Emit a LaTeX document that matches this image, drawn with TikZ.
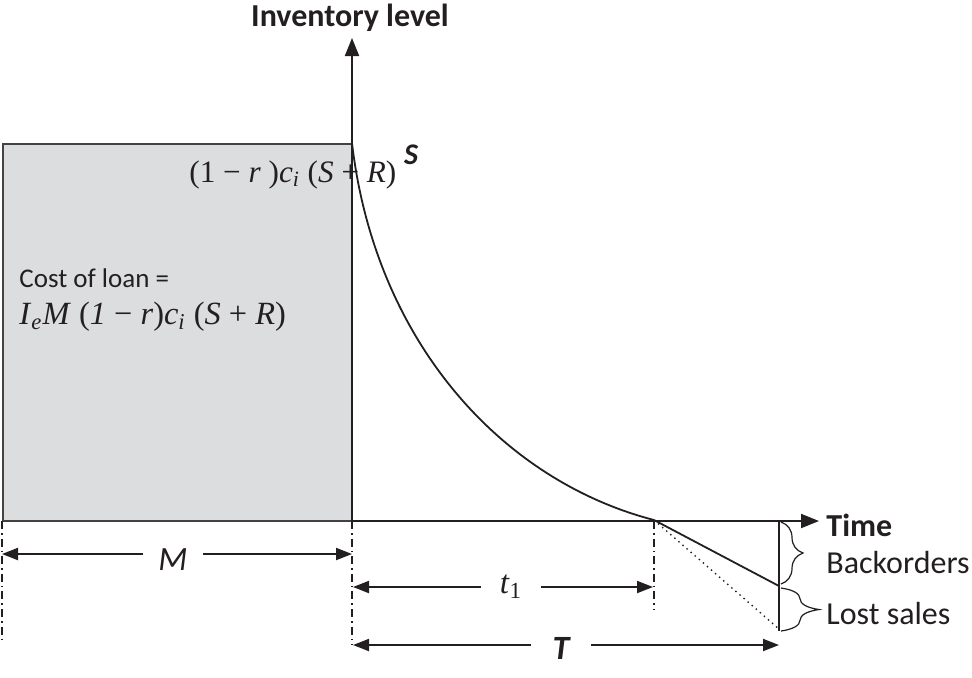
\documentclass[tikz,border=0pt]{standalone}
\usepackage{fontspec}
\setmainfont{Carlito}
\newfontfamily\tms{Liberation Serif}
\usetikzlibrary{arrows.meta,decorations.pathreplacing}
\definecolor{boxfill}{HTML}{DCDDDF}
\definecolor{ink}{HTML}{231F20}
\begin{document}
\begin{tikzpicture}[x=0.5pt,y=-0.5pt,
  axis/.style={draw=ink,line width=1pt,-{Triangle[length=9pt,width=7pt]}},
  dimarrow/.style={draw=ink,line width=1pt,-{Triangle[length=8pt,width=6pt]}},
  dashdot/.style={draw=ink,line width=0.8pt,dash pattern=on 4pt off 2pt on 0.8pt off 2pt},
  lbl/.style={font=\fontsize{16}{19}\selectfont,text=ink,inner sep=0pt},
  mth/.style={text=ink,inner sep=0pt},
  dimlbl/.style={minimum width=30pt,inner sep=0pt,text=ink},
  bracestyle/.style={draw=ink,line width=0.6pt,decorate}]
\useasboundingbox (0,0) rectangle (972,677);
% loan box
\node[draw=ink!85,line width=1pt,fill=boxfill,inner sep=0pt,anchor=north west,
  minimum width=174.5pt,minimum height=188.5pt] (box) at (2,143) {};
% coordinates
\coordinate (O) at (352,521);
\coordinate (Ytop) at (352,38);
\coordinate (Xend) at (819,521);
\coordinate (Stop) at (352,143);
\coordinate (Z) at (654,520);
\coordinate (B) at (779,586);
\coordinate (L) at (779,629);
\coordinate (Vbot) at (779,631);
\coordinate (Xv) at (779,521);
% texts
\node[lbl,font=\bfseries\fontsize{16}{19}\selectfont,anchor=base] (ylab) at (350,26) {Inventory level};
\node[lbl,font=\bfseries\fontsize{16}{19}\selectfont,anchor=base west] (xlab) at (826,536) {Time};
\node[lbl,anchor=base west] (back) at (826,573) {Backorders};
\node[lbl,anchor=base west] (lost) at (826,624) {Lost sales};
\node[lbl,font=\fontsize{13.5}{16}\selectfont,anchor=base west] (cost) at (19,287) {Cost of loan =};
\node[mth,font=\tms\fontsize{16.2}{19}\selectfont,anchor=base west] (f2) at (19,324) {\textit{I}\textsubscript{\textit{e}}\textit{M} (\textit{1} − \textit{r})\textit{c}\textsubscript{\textit{i}} (\textit{S} + \textit{R})};
\node[mth,font=\tms\fontsize{15.6}{19}\selectfont,anchor=base west] (f1) at (189,182) {(1 − \textit{r} )\textit{c}\textsubscript{\textit{i}} (\textit{S} + \textit{R})};
\node[lbl,font=\bfseries\itshape\fontsize{15}{18}\selectfont,anchor=center] (slab) at (411,155) {S};
% axes
\draw[draw=ink,line width=1pt] (box.south east) -- (O);
\draw[axis] (O) -- (Ytop);
\draw[axis] (O) -- (Xend);
% curve
\draw[draw=ink,line width=0.9pt] (Stop) .. controls (375,340) and (500,480) .. (Z);
\draw[draw=ink,line width=0.9pt] (Z) -- (B);
\draw[draw=ink,line width=0.7pt,dotted] (Z) -- (L);
\draw[draw=ink,line width=0.8pt] (Xv) -- (Vbot);
% braces
\draw[bracestyle,decoration={brace,amplitude=11pt}] (781,522) -- (781,584);
\draw[bracestyle,decoration={brace,amplitude=19pt}] (781,588) -- (781,631);
% dash-dot verticals
\coordinate (D1a) at (2,521); \coordinate (D1b) at (2,640);
\coordinate (D2b) at (352,645);
\coordinate (D3a) at (654,521); \coordinate (D3b) at (654,610);
\draw[dashdot] (D1a) -- (D1b);
\draw[dashdot] (O) -- (D2b);
\draw[dashdot] (D3a) -- (D3b);
% dimension M
\coordinate (Ml) at (2,554); \coordinate (Mr) at (352,554);
\node[dimlbl,font=\itshape\fontsize{17}{20}\selectfont] (Mlbl) at (173,560) {M};
\draw[dimarrow] (Ml -| Mlbl.west) -- (Ml);
\draw[dimarrow] (Mr -| Mlbl.east) -- (Mr);
% dimension t1
\coordinate (tl) at (353,587); \coordinate (tr) at (653,587);
\node[dimlbl,font=\tms\fontsize{16.5}{19}\selectfont] (tlbl) at (511,587) {\textit{t}\textsubscript{1}};
\draw[dimarrow] (tl -| tlbl.west) -- (tl);
\draw[dimarrow] (tr -| tlbl.east) -- (tr);
% dimension T
\coordinate (Tl) at (353,645); \coordinate (Tr) at (779,645);
\node[dimlbl,font=\bfseries\itshape\fontsize{17}{20}\selectfont] (Tlbl) at (561,648) {T};
\draw[dimarrow] (Tl -| Tlbl.west) -- (Tl);
\draw[dimarrow] (Tr -| Tlbl.east) -- (Tr);
\end{tikzpicture}
\end{document}
